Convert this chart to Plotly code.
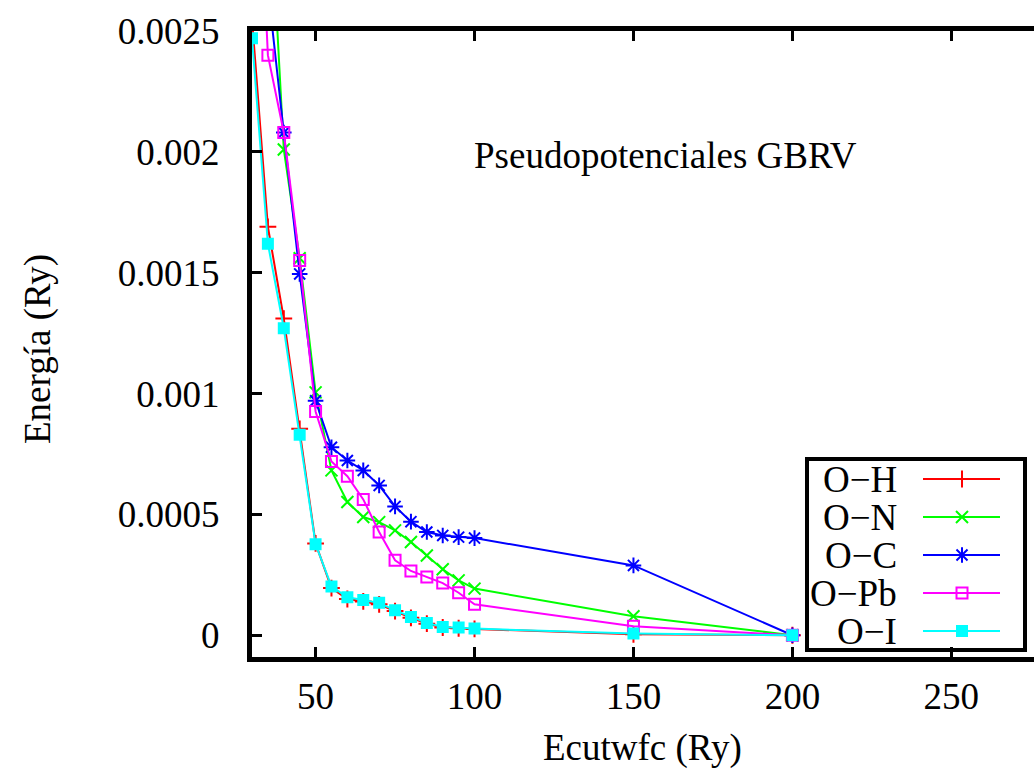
import plotly.graph_objects as go

# ---------------- data ----------------
ecut = [30, 35, 40, 45, 50, 55, 60, 65, 70, 75, 80, 85, 90, 95, 100, 150, 200]

e_OH = [0.00255, 0.00169, 0.00131, 0.000854, 0.000380, 0.000195, 0.000150, 0.000140,
        0.000128, 0.000100, 0.000072, 0.000048, 0.000032, 0.000029, 0.000026, 0.000004, 0.0]
e_ON = [0.00420, 0.00323, 0.00201, 0.00156, 0.001005, 0.000682, 0.000551, 0.000489,
        0.000468, 0.000434, 0.000386, 0.000330, 0.000273, 0.000227, 0.000193, 0.0000785, 0.0]
e_OC = [0.00350, 0.00268, 0.00208, 0.001495, 0.000970, 0.000778, 0.000723, 0.000682,
        0.000620, 0.000533, 0.000470, 0.000427, 0.000413, 0.000406, 0.000402, 0.000289, 0.0]
e_OPb = [0.00380, 0.00240, 0.00208, 0.00155, 0.000926, 0.000719, 0.000658, 0.000562,
         0.000427, 0.000310, 0.000266, 0.000241, 0.000216, 0.000176, 0.000128, 0.000037, 0.0]
e_OI = [0.00247, 0.00162, 0.00127, 0.000830, 0.000376, 0.000202, 0.000157, 0.000146,
        0.000134, 0.000103, 0.0000758, 0.000051, 0.0000344, 0.0000317, 0.0000275, 0.000007, 0.0]

names = ["O\u2212H", "O\u2212N", "O\u2212C", "O\u2212Pb", "O\u2212I"]
series = [e_OH, e_ON, e_OC, e_OPb, e_OI]
colors = ["#ff0000", "#00ff00", "#0000ff", "#ff00ff", "#00ffff"]
symbols = ["cross-thin-open", "x-thin-open", "asterisk-open", "square-open", "square"]
msizes = [12, 12, 13, 11, 10]

x_ticks = [50, 100, 150, 200, 250]
y_ticks = [0, 0.0005, 0.001, 0.0015, 0.002, 0.0025]
y_ticktext = ["0", "0.0005", "0.001", "0.0015", "0.002", "0.0025"]

title_text = "Pseudopotenciales GBRV"
xlabel = "Ecutwfc (Ry)"
ylabel = "Energía (Ry)"

# ---------------- layout constants (pixels) ----------------
W, H = 1034, 773
L, R, T, B = 252, 0, 31, 116
PW, PH = W - L - R, H - T - B
FONT = "'Liberation Serif', 'Times New Roman', Times, serif"
FS = 37


def px(xp):
    return (xp - L) / PW


def py(yp):
    return (H - B - yp) / PH


fig = go.Figure()

for name, ys, c, s, ms in zip(names, series, colors, symbols, msizes):
    fig.add_trace(go.Scatter(
        x=ecut, y=ys, mode="lines+markers", name=name,
        line=dict(color=c, width=2),
        marker=dict(symbol=s, size=ms, color=c, line=dict(color=c, width=2)),
        showlegend=False,
    ))

# ---------------- custom gnuplot-style legend ----------------
leg_box = (807, 459, 1025, 650)
row_y = [479, 517, 555, 593, 631]
text_right = 899
line_x0, line_x1, mark_x = 923, 1000, 962

shapes = [dict(type="rect", xref="paper", yref="paper",
               x0=px(leg_box[0]), x1=px(leg_box[2]), y0=py(leg_box[3]), y1=py(leg_box[1]),
               line=dict(color="black", width=4), fillcolor="white", layer="below")]
annotations = []
for name, c, s, ms, ry in zip(names, colors, symbols, msizes, row_y):
    shapes.append(dict(type="line", xref="paper", yref="paper",
                       x0=px(line_x0), x1=px(line_x1), y0=py(ry), y1=py(ry),
                       line=dict(color=c, width=2), layer="below"))
    annotations.append(dict(text=name, xref="paper", yref="paper", x=px(text_right), y=py(ry),
                            xanchor="right", yanchor="middle", showarrow=False,
                            font=dict(family=FONT, size=FS, color="black")))
    fig.add_trace(go.Scatter(
        x=[px(mark_x)], y=[py(ry)], xaxis="x2", yaxis="y2", mode="markers",
        marker=dict(symbol=s, size=ms, color=c, line=dict(color=c, width=2)),
        showlegend=False, cliponaxis=False, hoverinfo="skip"))

annotations += [
    dict(text=title_text, xref="paper", yref="paper", x=px(665), y=py(155),
         xanchor="center", yanchor="middle", showarrow=False,
         font=dict(family=FONT, size=FS, color="black")),
    dict(text=xlabel, xref="paper", yref="paper", x=px(642), y=py(748),
         xanchor="center", yanchor="middle", showarrow=False,
         font=dict(family=FONT, size=FS, color="black")),
    dict(text=ylabel, xref="paper", yref="paper", x=px(38), y=py(349),
         xanchor="center", yanchor="middle", showarrow=False, textangle=-90,
         font=dict(family=FONT, size=FS, color="black")),
]

fig.update_layout(
    width=W, height=H,
    margin=dict(l=L, r=R, t=T, b=B, pad=0),
    plot_bgcolor="white", paper_bgcolor="white",
    font=dict(family=FONT, size=FS, color="black"),
    xaxis=dict(range=[30, 276], tickvals=x_ticks, ticks="inside", ticklen=10, tickwidth=3,
               tickcolor="black", showline=True, linecolor="black", linewidth=5,
               mirror="ticks", showgrid=False, zeroline=False,
               tickfont=dict(family=FONT, size=FS, color="black"), ticklabelstandoff=3),
    yaxis=dict(range=[-0.00009, 0.0025], tickvals=y_ticks, ticktext=y_ticktext,
               ticks="inside", ticklen=10, tickwidth=3, tickcolor="black",
               showline=True, linecolor="black", linewidth=5, mirror=False,
               showgrid=False, zeroline=False,
               tickfont=dict(family=FONT, size=FS, color="black"), ticklabelstandoff=20),
    xaxis2=dict(overlaying="x", range=[0, 1], visible=False),
    yaxis2=dict(overlaying="y", range=[0, 1], visible=False),
    shapes=shapes, annotations=annotations,
)

fig.write_html("out.html")
